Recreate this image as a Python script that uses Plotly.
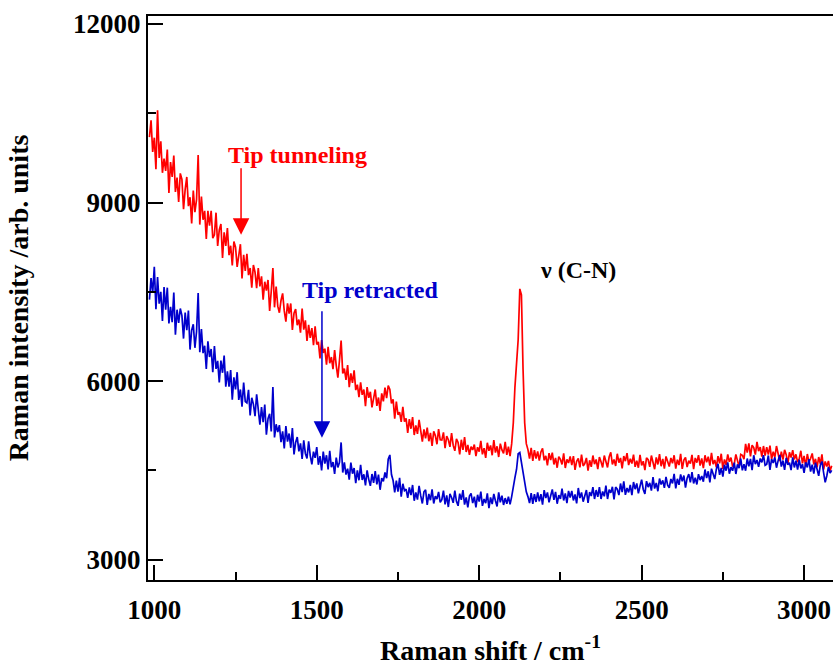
import plotly.graph_objects as go

# Raman shift grid (cm^-1), 5 cm^-1 steps
raman_shift = [
    985, 990, 995, 1000, 1005, 1010, 1015, 1020, 1025, 1030, 1035, 1040, 1045, 1050, 1055, 1060, 1065, 1070, 1075, 1080,
    1085, 1090, 1095, 1100, 1105, 1110, 1115, 1120, 1125, 1130, 1135, 1140, 1145, 1150, 1155, 1160, 1165, 1170, 1175, 1180,
    1185, 1190, 1195, 1200, 1205, 1210, 1215, 1220, 1225, 1230, 1235, 1240, 1245, 1250, 1255, 1260, 1265, 1270, 1275, 1280,
    1285, 1290, 1295, 1300, 1305, 1310, 1315, 1320, 1325, 1330, 1335, 1340, 1345, 1350, 1355, 1360, 1365, 1370, 1375, 1380,
    1385, 1390, 1395, 1400, 1405, 1410, 1415, 1420, 1425, 1430, 1435, 1440, 1445, 1450, 1455, 1460, 1465, 1470, 1475, 1480,
    1485, 1490, 1495, 1500, 1505, 1510, 1515, 1520, 1525, 1530, 1535, 1540, 1545, 1550, 1555, 1560, 1565, 1570, 1575, 1580,
    1585, 1590, 1595, 1600, 1605, 1610, 1615, 1620, 1625, 1630, 1635, 1640, 1645, 1650, 1655, 1660, 1665, 1670, 1675, 1680,
    1685, 1690, 1695, 1700, 1705, 1710, 1715, 1720, 1725, 1730, 1735, 1740, 1745, 1750, 1755, 1760, 1765, 1770, 1775, 1780,
    1785, 1790, 1795, 1800, 1805, 1810, 1815, 1820, 1825, 1830, 1835, 1840, 1845, 1850, 1855, 1860, 1865, 1870, 1875, 1880,
    1885, 1890, 1895, 1900, 1905, 1910, 1915, 1920, 1925, 1930, 1935, 1940, 1945, 1950, 1955, 1960, 1965, 1970, 1975, 1980,
    1985, 1990, 1995, 2000, 2005, 2010, 2015, 2020, 2025, 2030, 2035, 2040, 2045, 2050, 2055, 2060, 2065, 2070, 2075, 2080,
    2085, 2090, 2095, 2100, 2105, 2110, 2115, 2120, 2125, 2130, 2135, 2140, 2145, 2150, 2155, 2160, 2165, 2170, 2175, 2180,
    2185, 2190, 2195, 2200, 2205, 2210, 2215, 2220, 2225, 2230, 2235, 2240, 2245, 2250, 2255, 2260, 2265, 2270, 2275, 2280,
    2285, 2290, 2295, 2300, 2305, 2310, 2315, 2320, 2325, 2330, 2335, 2340, 2345, 2350, 2355, 2360, 2365, 2370, 2375, 2380,
    2385, 2390, 2395, 2400, 2405, 2410, 2415, 2420, 2425, 2430, 2435, 2440, 2445, 2450, 2455, 2460, 2465, 2470, 2475, 2480,
    2485, 2490, 2495, 2500, 2505, 2510, 2515, 2520, 2525, 2530, 2535, 2540, 2545, 2550, 2555, 2560, 2565, 2570, 2575, 2580,
    2585, 2590, 2595, 2600, 2605, 2610, 2615, 2620, 2625, 2630, 2635, 2640, 2645, 2650, 2655, 2660, 2665, 2670, 2675, 2680,
    2685, 2690, 2695, 2700, 2705, 2710, 2715, 2720, 2725, 2730, 2735, 2740, 2745, 2750, 2755, 2760, 2765, 2770, 2775, 2780,
    2785, 2790, 2795, 2800, 2805, 2810, 2815, 2820, 2825, 2830, 2835, 2840, 2845, 2850, 2855, 2860, 2865, 2870, 2875, 2880,
    2885, 2890, 2895, 2900, 2905, 2910, 2915, 2920, 2925, 2930, 2935, 2940, 2945, 2950, 2955, 2960, 2965, 2970, 2975, 2980,
    2985, 2990, 2995, 3000, 3005, 3010, 3015, 3020, 3025, 3030, 3035, 3040, 3045, 3050, 3055, 3060, 3065, 3070, 3075, 3080,
    3085,
]

tip_tunneling = [
    10100, 10380, 9850, 10090, 9560, 10550, 9750, 10030, 9500, 9740, 9530, 9890, 9160, 9680, 9430, 9790, 9180, 9420, 9010, 9490,
    9390, 8890, 9220, 9430, 8940, 9090, 8650, 9200, 8840, 9050, 9800, 8630, 9100, 8710, 8860, 8390, 8860, 8610, 8860, 8400,
    8460, 8830, 8270, 8540, 8640, 8070, 8500, 8270, 8570, 8115, 8275, 7945, 8345, 8250, 7920, 8145, 8300, 7725, 8120, 7850,
    8140, 7780, 7900, 7570, 7950, 7830, 7560, 7900, 7590, 7760, 7370, 7670, 7520, 7700, 7180, 7510, 7900, 7240, 7590, 7260,
    7150, 7355, 7475, 7180, 7000, 7305, 7135, 7305, 6860, 7140, 7210, 6940, 7035, 6815, 7220, 6865, 7020, 6675, 6945, 6725,
    6890, 6605, 6920, 6615, 6660, 6380, 6690, 6475, 6545, 6275, 6575, 6300, 6405, 6200, 6520, 6260, 6060, 6350, 6680, 6130,
    6210, 6020, 6270, 5900, 6130, 5970, 6180, 5850, 5940, 5730, 5980, 5770, 5860, 5580, 5900, 5720, 5820, 5560, 5730, 5860,
    5585, 5725, 5500, 5795, 5660, 5890, 5715, 5925, 5860, 5625, 5695, 5370, 5655, 5435, 5480, 5315, 5570, 5320, 5375, 5130,
    5360, 5200, 5395, 5095, 5255, 5115, 5350, 5145, 4985, 5190, 5040, 5220, 4990, 5130, 4910, 5155, 5085, 4940, 5195, 5015,
    5010, 5140, 4875, 5075, 5015, 4895, 5125, 4920, 4830, 5030, 4970, 4770, 5015, 4845, 5060, 4810, 4930, 4760, 4900, 4845,
    4935, 4740, 4890, 4815, 4995, 4770, 4875, 4710, 4965, 4830, 4920, 4755, 5010, 4800, 4905, 4725, 4950, 4845, 4785, 4980,
    4760, 4900, 4740, 4950, 5300, 5900, 6400, 6700, 7550, 7450, 6200, 5300, 4950, 4850, 4700, 4880, 4660, 4840, 4700, 4820,
    4665, 4810, 4870, 4670, 4745, 4585, 4790, 4675, 4800, 4600, 4710, 4545, 4730, 4685, 4600, 4785, 4540, 4685, 4625, 4735,
    4590, 4740, 4510, 4655, 4700, 4550, 4765, 4575, 4615, 4710, 4495, 4670, 4560, 4750, 4605, 4685, 4520, 4725, 4645, 4550,
    4750, 4645, 4550, 4725, 4805, 4600, 4685, 4575, 4780, 4630, 4710, 4535, 4740, 4655, 4790, 4590, 4695, 4615, 4765, 4560,
    4665, 4545, 4760, 4585, 4655, 4505, 4710, 4680, 4560, 4750, 4615, 4520, 4720, 4600, 4775, 4570, 4695, 4530, 4735, 4625,
    4565, 4710, 4620, 4755, 4530, 4680, 4590, 4780, 4525, 4675, 4720, 4555, 4665, 4615, 4760, 4520, 4710, 4630, 4755, 4580,
    4700, 4540, 4755, 4635, 4730, 4580, 4795, 4605, 4675, 4550, 4740, 4620, 4780, 4525, 4685, 4595, 4770, 4645, 4715, 4565,
    4605, 4770, 4655, 4560, 4770, 4755, 4690, 4945, 4800, 4955, 4735, 4925, 4885, 4765, 4980, 4825, 4890, 4730, 4910, 4750,
    4890, 4765, 4915, 4690, 4815, 4720, 4910, 4760, 4655, 4815, 4680, 4845, 4765, 4615, 4805, 4715, 4840, 4685, 4770, 4640,
    4695, 4830, 4620, 4745, 4570, 4775, 4640, 4700, 4785, 4600, 4695, 4550, 4725, 4610, 4770, 4515, 4650, 4565, 4660, 4495,
    4580,
]

tip_retracted = [
    7370, 7730, 7480, 7920, 7210, 7750, 7300, 7500, 7010, 7580, 7200, 7570, 6970, 7250, 6990, 7490, 6780, 7200, 6980, 7220,
    7100, 6715, 7150, 6855, 7185, 6530, 6855, 6955, 6560, 6830, 7480, 6485, 6875, 6470, 6595, 6205, 6670, 6405, 6540, 6150,
    6590, 6205, 6340, 5980, 6345, 6140, 6430, 5905, 6165, 5905, 6185, 5690, 6065, 5860, 6150, 5685, 5860, 5570, 5975, 5655,
    5635, 5855, 5425, 5720, 5615, 5410, 5780, 5450, 5270, 5565, 5310, 5605, 5100, 5370, 5450, 5155, 5900, 5055, 5275, 5145,
    5260, 4975, 5155, 4870, 5245, 4985, 5120, 4880, 5210, 4770, 4970, 5060, 4820, 4955, 4695, 5005, 4785, 4700, 4990, 4750,
    4600, 4815, 4710, 4890, 4595, 4740, 4500, 4815, 4615, 4755, 4515, 4830, 4555, 4640, 4440, 4715, 4550, 4635, 4970, 4465,
    4635, 4430, 4530, 4345, 4630, 4445, 4540, 4285, 4500, 4335, 4595, 4340, 4435, 4250, 4500, 4350, 4240, 4440, 4290, 4490,
    4265, 4430, 4175, 4370, 4315, 4465, 4370, 4690, 4760, 4430, 4330, 4130, 4330, 4145, 4375, 4060, 4275, 4160, 4185, 4040,
    4215, 4085, 4255, 3990, 4130, 4010, 4240, 4075, 3945, 4140, 4175, 3920, 4105, 4000, 4180, 3945, 4065, 4020, 4140, 3965,
    4010, 4160, 3930, 4080, 3885, 4105, 4045, 3955, 4160, 3980, 3905, 4110, 4005, 4170, 3925, 4045, 3880, 4070, 4115, 3950,
    4060, 3880, 4090, 3975, 4145, 3905, 4020, 3950, 4115, 3865, 4045, 3935, 4105, 3990, 3895, 4130, 3965, 4075, 3920, 4035,
    3940, 4060, 3930, 4060, 4250, 4380, 4520, 4780, 4800, 4620, 4430, 4250, 4140, 4060, 3950, 4120, 3940, 4100, 3970, 4130,
    3980, 4100, 3925, 4170, 4035, 4130, 3965, 4075, 4180, 4005, 4140, 3940, 4085, 4020, 4195, 3995, 4115, 3950, 4155, 4045,
    4155, 3995, 4095, 3945, 4205, 4035, 4130, 3975, 4100, 4170, 3955, 4135, 4070, 4220, 4020, 4170, 4055, 4220, 4020, 4145,
    4065, 4245, 4020, 4175, 4125, 4225, 4015, 4220, 4185, 4085, 4280, 4135, 4315, 4090, 4205, 4130, 4255, 4085, 4305, 4185,
    4280, 4115, 4235, 4345, 4180, 4106, 4320, 4220, 4290, 4160, 4386, 4195, 4290, 4150, 4363, 4263, 4332, 4206, 4392, 4253,
    4209, 4356, 4282, 4442, 4199, 4359, 4259, 4432, 4319, 4414, 4210, 4370, 4439, 4300, 4473, 4282, 4377, 4264, 4437, 4337,
    4405, 4310, 4515, 4370, 4485, 4300, 4530, 4435, 4355, 4520, 4610, 4425, 4540, 4395, 4595, 4495, 4635, 4445, 4555, 4495,
    4630, 4440, 4600, 4540, 4700, 4500, 4605, 4495, 4700, 4570, 4695, 4505, 4755, 4605, 4675, 4560, 4700, 4635, 4755, 4585,
    4605, 4750, 4510, 4690, 4625, 4720, 4545, 4660, 4760, 4565, 4665, 4510, 4710, 4595, 4630, 4505, 4720, 4550, 4665, 4515,
    4680, 4535, 4605, 4460, 4635, 4550, 4690, 4480, 4595, 4445, 4630, 4520, 4410, 4590, 4650, 4465, 4300, 4410, 4560, 4455,
    4500,
]

x_tickvals = [1000, 1500, 2000, 2500, 3000]
y_tickvals = [3000, 6000, 9000, 12000]

RED = "#FF0000"
BLUE = "#0000CC"
FONT = "Liberation Serif, Times New Roman, serif"

fig = go.Figure()
fig.add_trace(go.Scatter(x=raman_shift, y=tip_tunneling, mode="lines",
                         line=dict(color=RED, width=1.7), name="Tip tunneling"))
fig.add_trace(go.Scatter(x=raman_shift, y=tip_retracted, mode="lines",
                         line=dict(color=BLUE, width=1.7), name="Tip retracted"))

axis_common = dict(
    showgrid=False, zeroline=False, showline=True, linecolor="black", linewidth=2,
    ticks="inside", ticklen=15, tickwidth=2, tickcolor="black", automargin=False,
    tickformat="d",
    tickfont=dict(family=FONT, size=27, color="black", weight="bold"),
)

fig.update_xaxes(
    range=[980.6, 3089], tickvals=x_tickvals, mirror=True, ticklabelstandoff=5,
    minor=dict(ticks="inside", ticklen=8, tickwidth=2, tickcolor="black", dtick=250, tick0=1000),
    title=dict(text="Raman shift / cm<sup>-1</sup>", standoff=16,
               font=dict(family=FONT, size=28, color="black", weight="bold")),
    **axis_common,
)
fig.update_yaxes(
    range=[2659, 12134], tickvals=y_tickvals, ticklabelstandoff=0,
    minor=dict(ticks="inside", ticklen=8, tickwidth=2, tickcolor="black", dtick=1500, tick0=3000),
    title=dict(text="Raman intensity /arb. units", standoff=36,
               font=dict(family=FONT, size=28, color="black", weight="bold")),
    **axis_common,
)

ann_font = dict(family=FONT, size=24, weight="bold")
fig.add_annotation(x=1440, y=9800, text="Tip tunneling", showarrow=False,
                   font=dict(color=RED, **ann_font))
fig.add_annotation(x=1664, y=7534, text="Tip retracted", showarrow=False,
                   font=dict(color=BLUE, **ann_font))
fig.add_annotation(x=2304, y=7870, text="ν (C-N)", showarrow=False,
                   font=dict(color="black", **ann_font))
fig.add_annotation(x=1267, y=8457, ax=0, ay=-68, text="", showarrow=True,
                   arrowhead=2, arrowsize=2.2, arrowwidth=1.5, arrowcolor=RED)
fig.add_annotation(x=1516, y=5049, ax=0, ay=-128, text="", showarrow=True,
                   arrowhead=2, arrowsize=2.2, arrowwidth=1.5, arrowcolor=BLUE)

fig.update_layout(
    width=833, height=666,
    margin=dict(l=148, r=0, t=16, b=86),
    paper_bgcolor="white", plot_bgcolor="white",
    showlegend=False,
    font=dict(family=FONT, color="black"),
)

# remove the default page margin so the 833x666 figure fills the window exactly
fig.write_html("out.html", config={"displayModeBar": False},
               post_script="document.body.style.margin='0';document.body.style.overflow='hidden';")
